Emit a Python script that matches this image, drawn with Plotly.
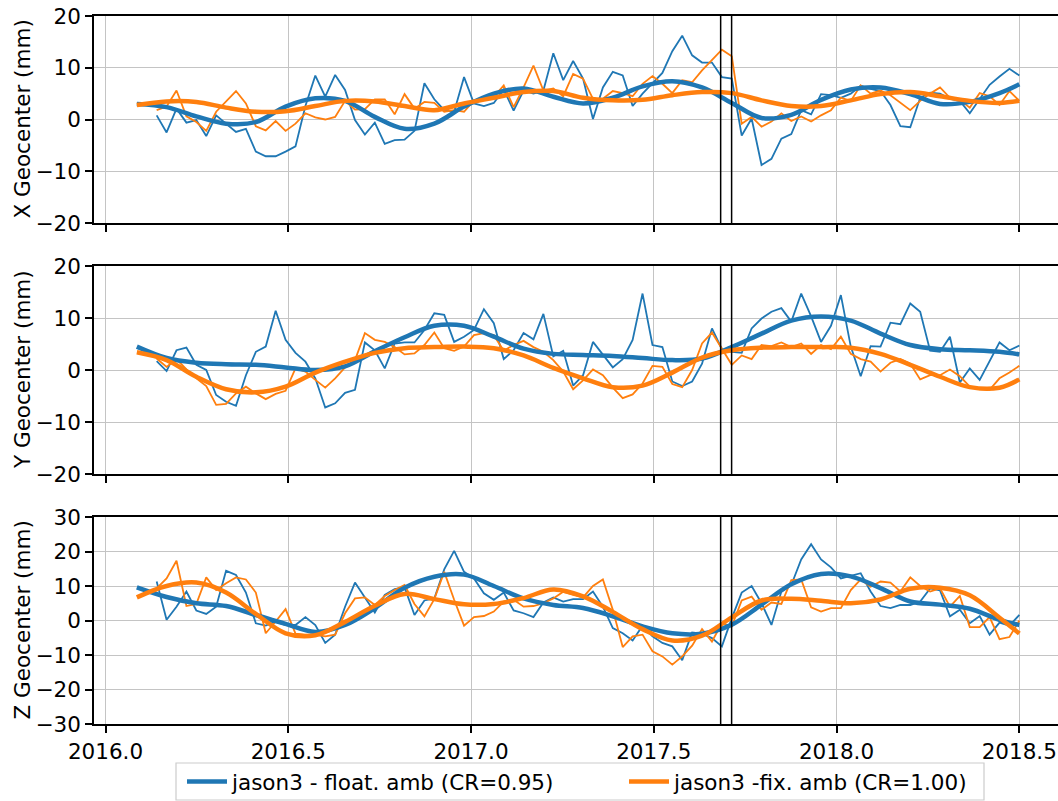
import numpy as np
import plotly.graph_objects as go

# ---------------- data ----------------
# common epoch grid (decimal years, ~10-day sampling)
t = np.round(2016.0857 + 0.02713 * np.arange(90), 5)
t_noisy = t[2:]                                   # noisy series start two epochs later
t_smooth = np.concatenate([t[0:88:3], t[-1:]])    # smooth curves sampled every 3rd epoch

x_float = [0.8, -2.5, 2.1, -0.6, -0.1, -3.2, 0.8, -0.8, -2.4, -1.8,
           -6.2, -7.1, -7.1, -6.2, -5.2, 2.6, 8.5, 4.4, 8.6, 5.7,
           -0.1, -2.9, -0.6, -4.7, -4.0, -3.9, -2.2, 7.0, 3.9, 1.8,
           1.5, 8.2, 3.1, 2.6, 3.2, 5.8, 1.7, 5.6, 5.0, 5.6,
           12.8, 7.6, 11.3, 7.9, 0.1, 6.2, 9.2, 8.5, 2.6, 5.0,
           6.9, 9.0, 13.2, 16.2, 12.4, 11.0, 11.0, 8.2, 7.9, -3.1,
           0.2, -8.8, -7.6, -3.7, -2.8, 1.8, 1.0, 4.9, 4.7, 4.2,
           5.0, 6.5, 5.9, 5.5, 2.8, -1.3, -1.5, 4.2, 5.2, 5.0,
           4.0, 3.6, 1.2, 4.0, 6.7, 8.3, 9.8, 8.5]
x_fix = [1.8, 2.5, 5.6, 0.6, -0.5, -2.2, 1.5, 3.4, 5.5, 3.1,
         -1.3, -2.1, -0.3, -2.2, -0.8, 1.2, 0.4, 0.0, 0.5, 3.6,
         1.9, 2.0, 3.9, 3.9, 1.0, 4.9, 2.1, 3.4, 3.2, 1.5,
         1.8, 1.5, 3.7, 3.8, 4.4, 6.6, 2.4, 6.2, 10.4, 5.6,
         6.0, 4.5, 8.8, 7.9, 4.0, 4.0, 5.5, 5.1, 4.5, 6.9,
         8.4, 6.9, 5.1, 7.6, 7.2, 9.5, 11.5, 13.5, 12.2, -0.8,
         0.5, -1.4, -0.4, 1.2, -0.3, 0.6, -0.4, 0.8, 1.8, 4.2,
         3.6, 6.6, 5.0, 5.6, 4.7, 3.2, 1.8, 3.6, 5.0, 6.2,
         4.2, 3.8, 2.3, 5.1, 4.5, 2.8, 5.5, 3.6]
x_float_fit = [3.0, 2.4, 0.6, -0.8, -0.5, 2.5, 4.1, 3.6, 0.5, -1.8,
               -0.8, 2.5, 5.0, 6.0, 4.4, 3.1, 4.2, 6.4, 7.4, 6.2,
               3.2, 0.3, 0.9, 3.8, 5.8, 6.2, 4.9, 3.0, 3.4, 5.1, 6.8]
x_fix_fit = [2.8, 3.5, 3.4, 2.3, 1.5, 1.6, 2.6, 3.6, 3.5, 2.6,
             1.8, 3.1, 4.2, 5.3, 5.5, 4.2, 3.7, 3.8, 4.7, 5.3,
             5.1, 3.7, 2.6, 2.6, 3.7, 4.9, 5.3, 4.5, 3.6, 3.2, 3.6]

y_float = [1.7, -0.2, 3.8, 4.3, 1.0, 0.0, -4.8, -6.1, -6.9, -1.0,
           3.5, 4.5, 11.4, 5.8, 3.3, 1.6, -1.6, -7.2, -6.4, -4.4,
           -3.8, 5.3, 3.8, 0.3, 5.1, 5.3, 5.3, 7.7, 10.9, 10.6,
           5.4, 6.4, 7.7, 11.7, 9.0, 2.1, 3.8, 7.1, 5.9, 10.8,
           2.6, 3.7, -3.0, -1.0, 5.4, 3.0, 0.5, 2.1, 5.8, 14.7,
           4.8, 4.4, -2.2, -3.1, -2.2, 1.2, 8.0, 4.0, 3.5, 3.3,
           8.0, 9.9, 11.2, 11.9, 9.3, 14.7, 10.3, 5.4, 8.5, 14.4,
           4.5, -1.2, 4.6, 4.5, 9.1, 8.8, 12.8, 11.2, 3.7, 3.5,
           6.4, -2.4, 0.3, -1.9, 1.6, 5.3, 3.8, 4.7]
y_fix = [2.2, 0.6, 2.1, 0.1, -1.6, -3.1, -6.7, -6.5, -4.5, -3.2,
         -4.5, -5.6, -4.6, -4.0, 0.3, -0.3, -1.9, -3.4, -1.6, 0.5,
         1.9, 7.1, 5.8, 5.4, 4.4, 3.0, 3.2, 4.8, 7.2, 4.2,
         3.7, 4.5, 6.7, 7.1, 6.7, 3.7, 4.8, 5.6, 4.4, 3.5,
         1.9, -0.3, -3.7, -2.0, 0.1, -1.0, -3.4, -5.4, -4.7, -2.6,
         0.8, 0.6, -2.7, -3.3, 0.0, 5.1, 7.2, 4.0, 1.0, 2.8,
         2.1, 4.8, 4.6, 5.3, 4.4, 5.1, 3.1, 4.8, 4.0, 6.4,
         3.1, 2.1, 1.6, -0.3, 1.4, 2.1, 1.2, -1.8, -1.0, -1.0,
         0.1, -1.2, -3.2, -3.7, -3.8, -1.6, -0.5, 0.8]
y_float_fit = [4.5, 2.3, 1.4, 1.1, 1.0, 0.5, 0.0, 0.7, 3.6, 6.3,
               8.5, 8.5, 6.4, 4.1, 3.1, 2.9, 2.7, 2.3, 1.9, 2.2,
               4.4, 7.0, 9.5, 10.3, 9.5, 7.0, 4.8, 4.0, 3.8, 3.5, 3.0]
y_fix_fit = [3.4, 1.9, -1.3, -3.7, -4.3, -3.2, -0.5, 1.6, 3.3, 4.2,
             4.4, 4.5, 4.2, 2.8, 0.4, -1.6, -3.3, -3.0, -0.5, 2.4,
             3.8, 4.3, 4.4, 4.4, 4.3, 3.1, 1.0, -1.3, -3.3, -3.4, -1.8]

z_float = [11.3, 0.2, 4.0, 8.4, 2.9, 1.9, 4.0, 14.4, 13.2, 8.1,
           -0.8, -1.5, -0.3, -1.3, -1.3, 1.0, -1.3, -6.5, -4.1, 4.0,
           11.0, 6.7, 2.3, 7.4, 9.1, 9.6, 1.6, 5.8, 6.4, 14.8,
           20.2, 14.1, 12.2, 7.9, 6.0, 8.1, 2.9, 2.1, 1.0, 5.2,
           6.7, 5.5, 6.2, 6.2, 8.4, 4.0, -2.2, -3.7, -5.8, -1.5,
           -4.6, -6.5, -7.5, -11.5, -3.5, -3.8, -5.1, -7.5, 0.7, 8.1,
           10.0, 5.0, -1.3, 8.4, 10.3, 17.7, 22.1, 17.7, 15.4, 12.2,
           12.9, 13.7, 8.4, 4.2, 3.6, 4.5, 4.5, 5.5, 9.3, 8.7,
           1.2, 3.1, -0.8, 1.3, -4.1, -0.6, -1.5, 1.6]
z_fix = [9.3, 12.2, 17.3, 4.2, 4.8, 12.5, 8.8, 10.8, 12.5, 11.9,
         8.1, -3.7, -0.3, 3.3, -3.8, -4.1, -4.1, -4.6, -4.1, 2.1,
         6.4, 6.7, 4.5, 7.1, 8.8, 10.3, 4.8, 1.2, 6.2, 14.1,
         6.0, -1.5, 1.0, 1.3, 2.6, 5.5, 6.0, 4.0, 4.2, 5.0,
         6.4, 8.3, 7.4, 6.7, 10.0, 11.9, 3.1, -7.7, -4.6, -4.1,
         -8.9, -10.4, -12.8, -10.4, -7.3, -2.5, -6.1, -0.8, -1.7, 5.8,
         6.9, 3.1, 5.2, 4.8, 11.7, 11.9, 3.8, 2.6, 3.6, 3.6,
         8.8, 11.9, 9.8, 11.3, 11.0, 8.4, 12.5, 10.0, 8.4, 9.3,
         4.0, 7.1, -1.9, -1.9, 1.0, -5.4, -4.8, 0.0]
z_float_fit = [9.6, 6.8, 5.0, 4.2, 1.6, -1.0, -3.3, -1.3, 3.6, 9.5,
               12.7, 13.3, 10.0, 6.4, 4.5, 3.6, 1.2, -1.7, -3.7, -3.8,
               -1.2, 4.6, 10.5, 13.5, 12.8, 9.4, 5.5, 4.6, 3.4, 0.2, -1.3]
z_fix_fit = [6.7, 10.0, 11.0, 8.1, 1.9, -3.7, -4.3, -0.4, 4.3, 7.7,
             6.2, 4.7, 4.8, 6.5, 9.0, 7.0, 2.5, -2.5, -5.8, -4.4,
             0.9, 5.8, 6.3, 5.7, 5.0, 6.1, 9.2, 9.5, 7.3, 0.8, -3.8]

event_epochs = [2017.683, 2017.713]
x_ticks = [2016.0, 2016.5, 2017.0, 2017.5, 2018.0, 2018.5]
x_ticklabels = ["2016.0", "2016.5", "2017.0", "2017.5", "2018.0", "2018.5"]
panel_titles = ["X Geocenter (mm)", "Y Geocenter (mm)", "Z Geocenter (mm)"]
y_ticks = [[-20, -10, 0, 10, 20], [-20, -10, 0, 10, 20], [-30, -20, -10, 0, 10, 20, 30]]
name_float = "jason3 - float. amb (CR=0.95)"
name_fix = "jason3 -fix. amb (CR=1.00)"

# ---------------- figure ----------------
BLUE = "#1f77b4"
ORANGE = "#ff7f0e"
FONT = "DejaVu Sans"
FS = 21.5
W, H = 1058, 801
L = 94
PW = W - L
# panel pixel extents (top, bottom) in page coordinates
panels_px = [(16, 223), (266, 474), (517, 724)]


def px_x(p):
    return (p - L) / PW


def px_y(p):
    return 1 - p / H


series = [
    (x_float, x_fix, x_float_fit, x_fix_fit),
    (y_float, y_fix, y_float_fit, y_fix_fit),
    (z_float, z_fix, z_float_fit, z_fix_fit),
]

fig = go.Figure()
layout = dict(
    width=W, height=H,
    margin=dict(l=L, r=0, t=0, b=0, autoexpand=False),
    paper_bgcolor="white", plot_bgcolor="white",
    font=dict(family=FONT, size=FS, color="black"),
    showlegend=True,
)


def minus(v):
    return str(v).replace("-", "\u2212")


shapes = []
annotations = []
for i, (fl, fx, flf, fxf) in enumerate(series):
    n = i + 1
    xa = "x" if n == 1 else f"x{n}"
    ya = "y" if n == 1 else f"y{n}"
    top, bot = panels_px[i]
    dom = [px_y(bot), px_y(top)]
    yt = y_ticks[i]
    layout["xaxis" if n == 1 else f"xaxis{n}"] = dict(
        domain=[0, 1], anchor=ya, range=[2015.9685, 2018.606],
        tickvals=x_ticks, ticktext=x_ticklabels, showticklabels=(n == 3),
        ticks="outside", ticklen=7, tickwidth=1.5, tickcolor="black",
        showline=True, linecolor="black", linewidth=1.5, mirror=True,
        showgrid=True, gridcolor="#c4c4c4", gridwidth=1.4, zeroline=False,
        ticklabeloverflow="allow",
        tickfont=dict(family=FONT, size=FS, color="black"),
    )
    layout["yaxis" if n == 1 else f"yaxis{n}"] = dict(
        domain=dom, anchor=xa, range=[yt[0], yt[-1]],
        tickvals=yt, ticktext=[minus(v) for v in yt],
        ticks="outside", ticklen=7, tickwidth=1.5, tickcolor="black",
        showline=True, linecolor="black", linewidth=1.5, mirror=False,
        showgrid=True, gridcolor="#c4c4c4", gridwidth=1.4, zeroline=False,
        ticklabeloverflow="allow",
        tickfont=dict(family=FONT, size=FS, color="black"),
    )
    fig.add_trace(go.Scatter(x=t_noisy, y=fl, mode="lines", xaxis=xa, yaxis=ya,
                             line=dict(color=BLUE, width=1.8), showlegend=False,
                             hoverinfo="skip"))
    fig.add_trace(go.Scatter(x=t_noisy, y=fx, mode="lines", xaxis=xa, yaxis=ya,
                             line=dict(color=ORANGE, width=1.8), showlegend=False,
                             hoverinfo="skip"))
    fig.add_trace(go.Scatter(x=t_smooth, y=flf, mode="lines", xaxis=xa, yaxis=ya,
                             line=dict(color=BLUE, width=4.5, shape="spline", smoothing=1.0),
                             name=name_float, showlegend=(n == 1), legendrank=1))
    fig.add_trace(go.Scatter(x=t_smooth, y=fxf, mode="lines", xaxis=xa, yaxis=ya,
                             line=dict(color=ORANGE, width=4.5, shape="spline", smoothing=1.0),
                             name=name_fix, showlegend=(n == 1), legendrank=2))
    for ev in event_epochs:
        shapes.append(dict(type="line", xref=xa, yref=f"{ya} domain",
                           x0=ev, x1=ev, y0=0, y1=1,
                           line=dict(color="black", width=1.5), layer="above"))
    annotations.append(dict(text=panel_titles[i], xref="paper", yref="paper",
                            x=px_x(22), y=px_y((top + bot) / 2),
                            xanchor="center", yanchor="middle", textangle=-90,
                            showarrow=False, font=dict(family=FONT, size=FS, color="black")))

# legend frame (drawn as a shape so the box can be sized like the reference)
shapes.append(dict(type="rect", xref="paper", yref="paper",
                   x0=px_x(176), x1=px_x(984), y0=px_y(800), y1=px_y(763),
                   line=dict(color="#cccccc", width=1.2), fillcolor="white",
                   layer="below"))

layout["shapes"] = shapes
layout["annotations"] = annotations
layout["legend"] = dict(
    orientation="h", x=px_x(182), xanchor="left",
    y=px_y(781.5), yanchor="middle",
    bgcolor="rgba(0,0,0,0)", borderwidth=0,
    font=dict(family=FONT, size=FS, color="black"),
    itemwidth=40, entrywidth=387, traceorder="normal",
)
fig.update_layout(**layout)
# remove the browser's default page margin so the figure fills the window exactly
fig.write_html("out.html",
               config={"displayModeBar": False},
               post_script="document.body.style.margin='0';document.body.style.overflow='hidden';")
